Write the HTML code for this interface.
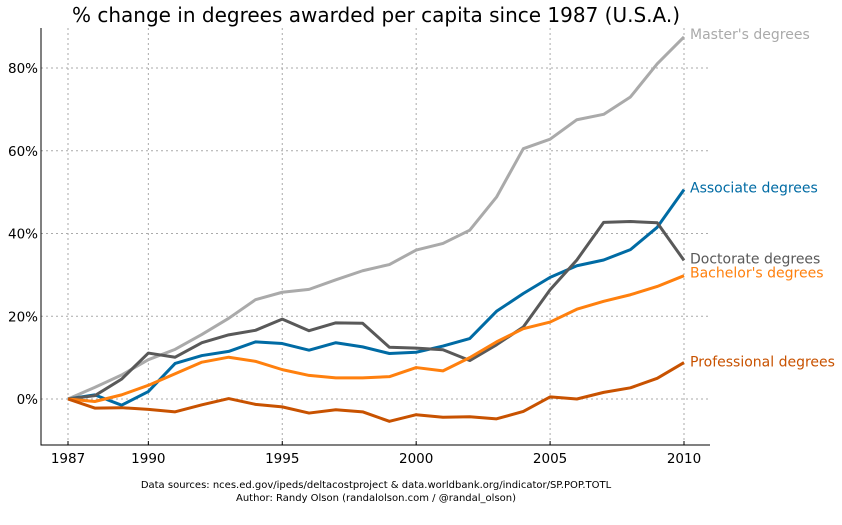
<!DOCTYPE html>
<html><head><meta charset="utf-8"><style>
body{margin:0;background:#fff;font-family:"DejaVu Sans","Liberation Sans",sans-serif}
</style></head><body>
<svg id="chart" width="842" height="521" xmlns="http://www.w3.org/2000/svg" font-family="DejaVu Sans, Liberation Sans, sans-serif">
<text x="376" y="22" font-size="20" text-anchor="middle" fill="#000">% change in degrees awarded per capita since 1987 (U.S.A.)</text>
<g id="grid"></g><g id="axes"></g><g id="series"></g>
<text x="376" y="488" font-size="10" text-anchor="middle">Data sources: nces.ed.gov/ipeds/deltacostproject &amp; data.worldbank.org/indicator/SP.POP.TOTL</text>
<text x="376" y="501" font-size="10" text-anchor="middle">Author: Randy Olson (randalolson.com / @randal_olson)</text>
</svg>
<script>
const years=[1987,1988,1989,1990,1991,1992,1993,1994,1995,1996,1997,1998,1999,2000,2001,2002,2003,2004,2005,2006,2007,2008,2009,2010];
const masters=[0,2.8,5.8,9.5,12,15.6,19.5,24,25.8,26.5,28.8,31,32.5,36,37.6,40.8,48.8,60.5,62.8,67.5,68.8,73,81,87.5];
const associate=[0,1,-1.5,1.8,8.6,10.5,11.5,13.8,13.4,11.8,13.6,12.6,11,11.3,12.8,14.6,21.2,25.5,29.4,32.2,33.6,36.1,41.5,50.6];
const doctorate=[0,0.8,4.8,11.1,10.1,13.6,15.5,16.6,19.3,16.5,18.4,18.3,12.5,12.3,11.9,9.3,13.1,17.4,26.4,33.6,42.7,42.9,42.6,33.5];
const bachelor=[0,-0.6,1,3.3,6.1,8.9,10.1,9.1,7.1,5.7,5.1,5.1,5.4,7.6,6.8,10,13.8,17,18.6,21.7,23.6,25.2,27.2,29.8];
const professional=[0,-2.2,-2.1,-2.5,-3.1,-1.4,0.1,-1.3,-1.9,-3.4,-2.6,-3.1,-5.4,-3.8,-4.4,-4.3,-4.8,-3,0.5,0,1.6,2.7,5,8.8];
const xTicks=[1987,1990,1995,2000,2005,2010];
const yTicks=[0,20,40,60,80];
const seriesNames=["Master's degrees","Associate degrees","Doctorate degrees","Bachelor's degrees","Professional degrees"];
const seriesData=[masters,associate,doctorate,bachelor,professional];
const colors=["#aaaaaa","#006ba4","#595959","#ff800e","#c85200"];
const labelOffsets=[-3,-2,-2,-3,-1];
const NS="http://www.w3.org/2000/svg";
const L=41,R=710,T=28,B=445;
const x=v=>68+(v-1987)*(684-68)/23;
const y=v=>399-v*(399-68)/80;
function mk(t,a,p){const e=document.createElementNS(NS,t);for(const k in a)e.setAttribute(k,a[k]);p.appendChild(e);return e;}
const grid=document.getElementById('grid'),axes=document.getElementById('axes'),ser=document.getElementById('series');
xTicks.forEach(t=>{
 const g=mk('line',{x1:x(t),x2:x(t),y1:T,y2:B,stroke:'#aaa','stroke-dasharray':'2,3','stroke-width':1},grid);
 
 
 const tk=mk('line',{x1:x(t),x2:x(t),y1:B,y2:B-4,stroke:'#000'},axes);
 
 
 const lb=mk('text',{x:x(t),y:B+18,'font-size':13.5,'text-anchor':'middle'},axes);lb.textContent=t;
 
 
});
yTicks.forEach(t=>{
 const g=mk('line',{x1:L,x2:R,y1:y(t),y2:y(t),stroke:'#aaa','stroke-dasharray':'2,3','stroke-width':1},grid);
 
 
 const lb=mk('text',{x:L-3,y:y(t)+5,'font-size':13.5,'text-anchor':'end'},axes);lb.textContent=t+'%';
 
 
});
const ax=mk('path',{d:`M${L},${T}V${B}H${R}`,fill:'none',stroke:'#000','stroke-width':1},axes);


seriesData.forEach((d,i)=>{
 const p=mk('polyline',{points:d.map((v,j)=>x(years[j])+','+y(v)).join(' '),fill:'none',stroke:colors[i],'stroke-width':3,'stroke-linejoin':'round'},ser);
 
 
 const t=mk('text',{x:690,y:y(d[d.length-1])+5+labelOffsets[i],'font-size':14,fill:colors[i]},ser);t.textContent=seriesNames[i];
 
 
});
</script>
</body></html>
